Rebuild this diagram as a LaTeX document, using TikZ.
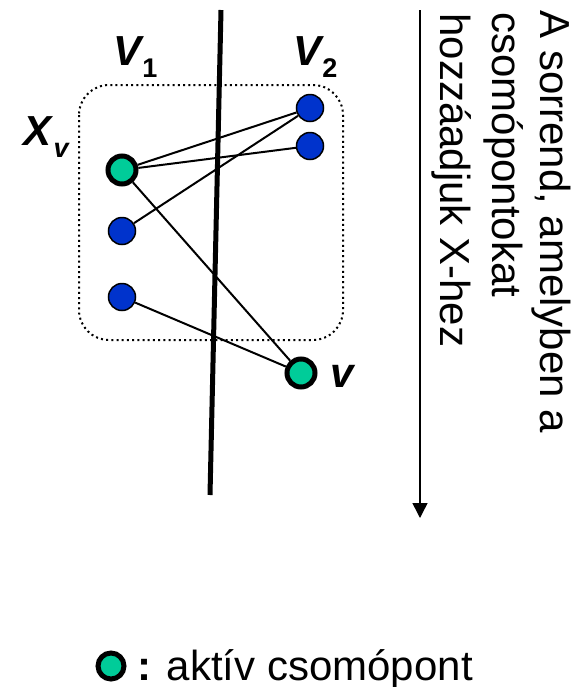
\documentclass[tikz,border=0pt]{standalone}
\usepackage{fontspec}
\setmainfont{Liberation Sans}
\usetikzlibrary{arrows.meta,positioning}
\definecolor{activegreen}{RGB}{0,204,153}
\definecolor{vertexblue}{RGB}{0,51,204}
% bold italic label with a lowered index
\newcommand{\setlabel}[2]{\textbf{\textit{#1}}\raisebox{-6pt}{\fontsize{13.5}{13.5}\selectfont\textbf{#2}}}
\begin{document}
\begin{tikzpicture}[x=0.5pt,y=-0.5pt,
    active/.style={circle,draw=black,fill=activegreen,line width=2.5pt,minimum size=14pt,inner sep=0pt},
    plain/.style={circle,draw=black,fill=vertexblue,line width=0.75pt,minimum size=13.5pt,inner sep=0pt},
    edge/.style={line width=1pt},
    big/.style={font=\fontsize{21}{25}\selectfont,inner sep=0pt}]
		\useasboundingbox (0,0) rectangle (585,687);
		% the set X_v
		\draw[line width=1pt,dash pattern=on 1pt off 1.6pt,rounded corners=15pt] (79,85) rectangle (343,340);
		
		% the cut
		\coordinate (cuttop) at (221,10);
		\coordinate (cutbot) at (210,495);
		\draw[line width=2.5pt] (cuttop)--(cutbot);
		
		\node[active] (x) at (122,170) {};
		\node[plain] (a) at (122,231) {};
		\node[plain] (b) at (122,297) {};
		\node[plain] (c) at (310,108) {};
		\node[plain] (d) at (310,146) {};
		\node[active] (v) at (301,373) {};
		
		\draw[edge] (x)--(c);
		\draw[edge] (x)--(d);
		\draw[edge] (x)--(v);
		\draw[edge] (a)--(c);
		\draw[edge] (b)--(v);
		
		\node[big,anchor=base west] (v1) at (113,65) {\setlabel{V}{\kern-1pt 1}};
		\node[big,anchor=base west] (v2) at (293,65) {\setlabel{V}{\kern-1pt 2}};
		\node[big,anchor=base west] (xv) at (23,145) {\setlabel{X}{\textit{v}}};
		\node[big,anchor=base west] (vname) at (330,387) {\textbf{\textit{v}}};
		
		% order of insertion
		\coordinate (ordtop) at (420,10);
		\coordinate (ordbot) at (420,518);
		\draw[line width=0.75pt,-{Triangle[length=7.5pt,width=7.5pt]}] (ordtop)--(ordbot);
		\node[big,rotate=-90,anchor=base west] (ord1) at (540,10) {A sorrend, amelyben a};
		\node[big,rotate=-90,anchor=base west] (ord2) at (492,12) {csomópontokat};
		\node[big,rotate=-90,anchor=base west] (ord3) at (440,13) {hozzáadjuk X-hez};
		
		% legend
		\node[active,minimum size=13pt] (leg) at (111,666) {};
		\node[big,anchor=base west] (legtext) at (137,680) {\textbf{:} aktív csomópont};
		
		\end{tikzpicture}
\end{document}
